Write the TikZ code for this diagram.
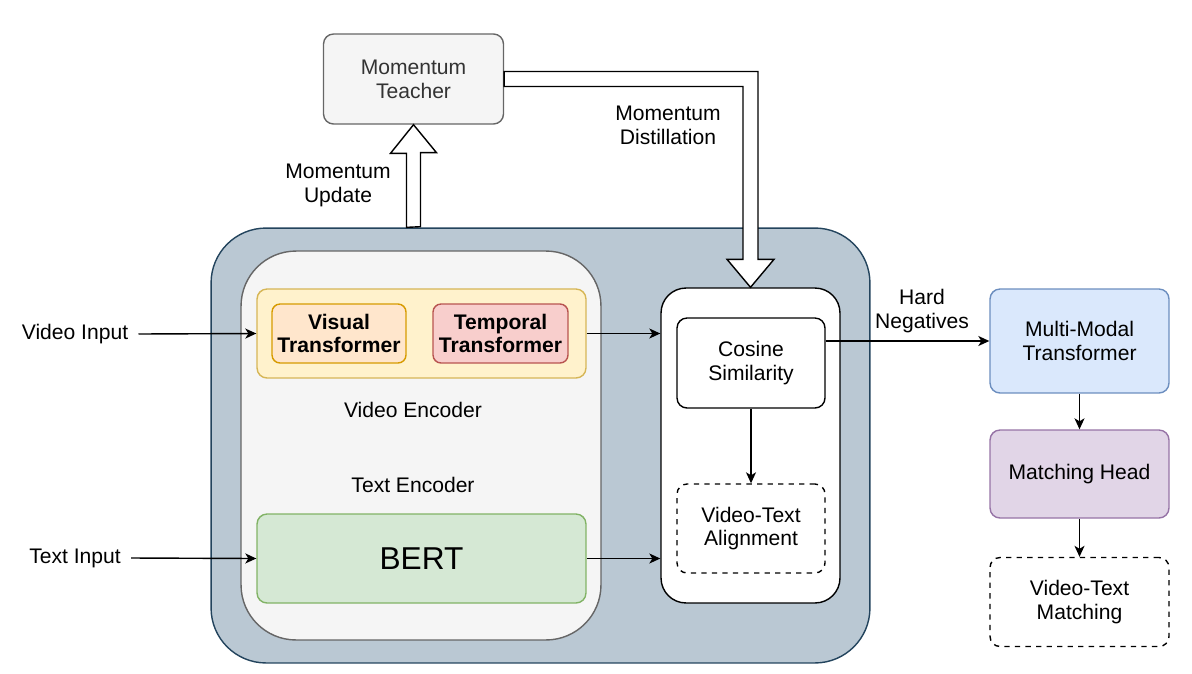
\documentclass[tikz,border=0pt]{standalone}
\usepackage{fontspec}
\setmainfont{Liberation Sans}
\usetikzlibrary{arrows.meta,calc}

\definecolor{outerfill}{HTML}{BAC8D3}
\definecolor{outerline}{HTML}{23445D}
\definecolor{grayfill}{HTML}{F5F5F5}
\definecolor{grayline}{HTML}{666666}
\definecolor{graytext}{HTML}{333333}
\definecolor{yellowfill}{HTML}{FFF2CC}
\definecolor{yellowline}{HTML}{D6B656}
\definecolor{orangefill}{HTML}{FFE6CC}
\definecolor{orangeline}{HTML}{D79B00}
\definecolor{redfill}{HTML}{F8CECC}
\definecolor{redline}{HTML}{B85450}
\definecolor{greenfill}{HTML}{D5E8D4}
\definecolor{greenline}{HTML}{82B366}
\definecolor{bluefill}{HTML}{DAE8FC}
\definecolor{blueline}{HTML}{6C8EBF}
\definecolor{purplefill}{HTML}{E1D5E7}
\definecolor{purpleline}{HTML}{9673A6}

\tikzset{
  box/.style={draw,line width=0.8pt,rounded corners=0.2cm,align=center,inner sep=0pt},
  lbl/.style={align=center,inner sep=0pt},
  conn/.style={line width=0.8pt,-{Stealth[length=2.2mm,width=2mm,inset=0.6mm]}},
  hollow/.style={draw,line width=0.8pt,fill=white,line join=miter}
}

\begin{document}
\begin{tikzpicture}[x=0.02cm,y=-0.02cm,font=\fontsize{12pt}{13.6pt}\selectfont]
      \useasboundingbox (0,0) rectangle (1192,673);

      \node[box,fill=grayfill,draw=grayline,text=graytext,minimum width=3.6cm,minimum height=1.8cm] (teacher) at (413.5,79) {Momentum\\Teacher};

      \node[box,fill=outerfill,draw=outerline,rounded corners=1.1cm,minimum width=13.18cm,minimum height=8.7cm] (outer) at (540.5,445.5) {};
      \node[box,fill=grayfill,draw=grayline,rounded corners=1.1cm,minimum width=7.2cm,minimum height=7.78cm] (enc) at (421,445.5) {};

      \node[box,fill=yellowfill,draw=yellowline,minimum width=6.58cm,minimum height=1.78cm] (vgroup) at (421.5,333.5) {};
      \node[box,fill=orangefill,draw=orangeline,font=\fontsize{12pt}{13.6pt}\selectfont\bfseries,rounded corners=0.16cm,minimum width=2.68cm,minimum height=1.18cm] (visual) at (339,333.5) {Visual\\Transformer};
      \node[box,fill=redfill,draw=redline,font=\fontsize{12pt}{13.6pt}\selectfont\bfseries,rounded corners=0.16cm,minimum width=2.7cm,minimum height=1.18cm] (temporal) at (500.5,333.5) {Temporal\\Transformer};
      \node[lbl] (venc) at (413,410) {Video Encoder};
      \node[lbl] (tenc) at (413,485) {Text Encoder};
      \node[box,fill=greenfill,draw=greenline,font=\fontsize{18pt}{20pt}\selectfont,minimum width=6.58cm,minimum height=1.78cm] (bert) at (421.5,558.5) {BERT};

      \node[box,fill=white,rounded corners=0.5cm,minimum width=3.58cm,minimum height=6.3cm] (align) at (750.5,445.5) {};
      \node[box,fill=white,minimum width=2.96cm,minimum height=1.8cm] (cos) at (751,363) {Cosine\\Similarity};
      \node[box,fill=white,dashed,minimum width=2.96cm,minimum height=1.78cm] (vta) at (751,528.5) {Video-Text\\Alignment};

      \node[box,fill=bluefill,draw=blueline,minimum width=3.58cm,minimum height=2.08cm] (mmt) at (1079.5,341) {Multi-Modal\\Transformer};
      \node[box,fill=purplefill,draw=purpleline,minimum width=3.58cm,minimum height=1.76cm] (head) at (1079.5,474) {Matching Head};
      \node[box,fill=white,dashed,minimum width=3.58cm,minimum height=1.78cm] (vtm) at (1079.5,602) {Video-Text\\Matching};

      \node[lbl] (vin) at (75,334) {Video Input};
      \node[lbl] (tin) at (75,558) {Text Input};
      \node[lbl] (upd) at (338,185) {Momentum\\Update};
      \node[lbl] (dist) at (668,125) {Momentum\\Distillation};
      \node[lbl] (hard) at (922,311) {Hard\\Negatives};

      \draw[hollow] ($(teacher.south |- outer.north)+(-7,0)$) -- ++(0,-74) -- ++(-16,0) -- (teacher.south) -- ++(23,28) -- ++(-16,0) -- ++(0,74) -- cycle;
      \draw[hollow] ($(teacher.east)+(0,-7.5)$) -| ($(align.north)+(7.5,-28)$) -- ++(16,0) -- (align.north) -- ++(-23.5,-28) -- ++(16,0) |- ($(teacher.east)+(0,7.5)$) -- cycle;

      \draw[conn] ($(vin.east)+(10,0)$) -- (vgroup.west);
      \draw[conn] ($(tin.east)+(10,0)$) -- (bert.west);
      \draw[conn] (vgroup.east) -- (vgroup.east -| align.west);
      \draw[conn] (bert.east) -- (bert.east -| align.west);
      \draw[conn] (cos.south) -- (vta.north);
      \draw[conn] (mmt.west -| cos.east) -- (mmt.west);
      \draw[conn] (mmt.south) -- (head.north);
      \draw[conn] (head.south) -- (vtm.north);
    \end{tikzpicture}
\end{document}
